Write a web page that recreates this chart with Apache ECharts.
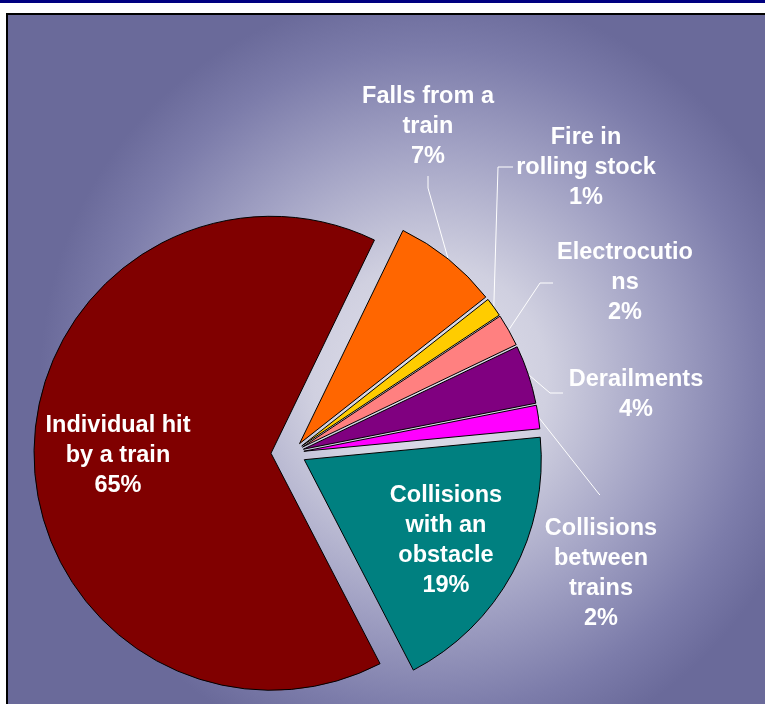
<!DOCTYPE html>
<html>
<head>
<meta charset="utf-8">
<script src="https://cdn.jsdelivr.net/npm/echarts@6/dist/echarts.min.js"></script>
<style>
  html, body { margin: 0; padding: 0; background: #fff; }
  #topbar { position: absolute; left: 0; top: 0; width: 765px; height: 3px; background: #000080; }
  #main {
    position: absolute; left: 6px; top: 13px; width: 757px; height: 689px;
    border-left: 2px solid #000; border-top: 2px solid #000;
  }
</style>
</head>
<body>
<div id="topbar"></div>
<div id="main"></div>
<script>
// data
const categories = ['Individual hit\nby a train', 'Falls from a\ntrain', 'Fire in\nrolling stock',
    'Electrocutio\nns', 'Derailments', 'Collisions\nbetween\ntrains', 'Collisions\nwith an\nobstacle'];
const values = [64.8, 7.2, 1.3, 2.2, 4.0, 1.6, 18.9];

// styles / layout
const colors = ['#800000', '#FF6600', '#FFCC00', '#FF8080', '#800080', '#FF00FF', '#008080'];
const explode = [21, 12, 12, 12, 12, 12, 14];
const CX = 284, CY = 438, R = 237, START = 297.4;
// label centres (chart coords)
const labelAt = [[110, 441], [420, 112], [578, 153], [617, 268], [628, 380], [593, 559], [438, 526]];
// leader line bend points, after the point on the arc
const leaders = [
    null,
    [[420, 173], [420, 161]],
    [[490, 152], [505, 152]],
    [[532, 268], [545, 268]],
    [[542, 378], [555, 378]],
    [[591, 479], [592, 480]],
    null
];

const total = values.reduce((a, b) => a + b, 0);
// mid angle of each slice (degrees, counter-clockwise from 3 o'clock)
const midAngles = [];
let acc = START;
values.forEach(v => {
    const span = v / total * 360;
    midAngles.push(acc - span / 2);
    acc -= span;
});
const rad = a => a * Math.PI / 180;

const chart = echarts.init(document.getElementById('main'));

const series = values.map((_, i) => {
    const a = rad(midAngles[i]);
    return {
        type: 'pie',
        center: [CX + explode[i] * Math.cos(a), CY - explode[i] * Math.sin(a)],
        radius: R,
        startAngle: START,
        clockwise: true,
        silent: true,
        animation: false,
        avoidLabelOverlap: false,
        percentPrecision: 0,
        emphasis: { disabled: true },
        label: {
            position: 'outside',
            color: '#fff',
            fontFamily: '"Liberation Sans", Arial, sans-serif',
            fontWeight: 'bold',
            fontSize: 23.5,
            lineHeight: 30,
            formatter: '{b}\n{d}%'
        },
        labelLine: { lineStyle: { color: '#fff', width: 1 } },
        labelLayout: (params) => {
            const j = params.dataIndex;
            const out = { x: labelAt[j][0], y: labelAt[j][1], align: 'center', verticalAlign: 'middle' };
            if (leaders[j]) {
                const m = rad(midAngles[j]);
                const p0 = [CX + (R + explode[j]) * Math.cos(m), CY - (R + explode[j]) * Math.sin(m)];
                out.labelLinePoints = [p0].concat(leaders[j]);
            }
            return out;
        },
        data: values.map((v, j) => ({
            name: categories[j],
            value: v,
            itemStyle: j === i
                ? { color: colors[j], borderColor: '#000', borderWidth: 1 }
                : { color: 'rgba(0,0,0,0)', borderColor: 'rgba(0,0,0,0)', borderWidth: 0 },
            label: { show: j === i },
            labelLine: { show: j === i && leaders[j] != null }
        }))
    };
});

chart.setOption({
    backgroundColor: new echarts.graphic.RadialGradient(422, 365, 390, [
        { offset: 0, color: '#e2e2ec' },
        { offset: 0.3, color: '#d0d0e0' },
        { offset: 0.6, color: '#a2a2c4' },
        { offset: 0.85, color: '#7c7caa' },
        { offset: 1, color: '#6a6a9a' }
    ], true),
    series: series
});
</script>
</body>
</html>
